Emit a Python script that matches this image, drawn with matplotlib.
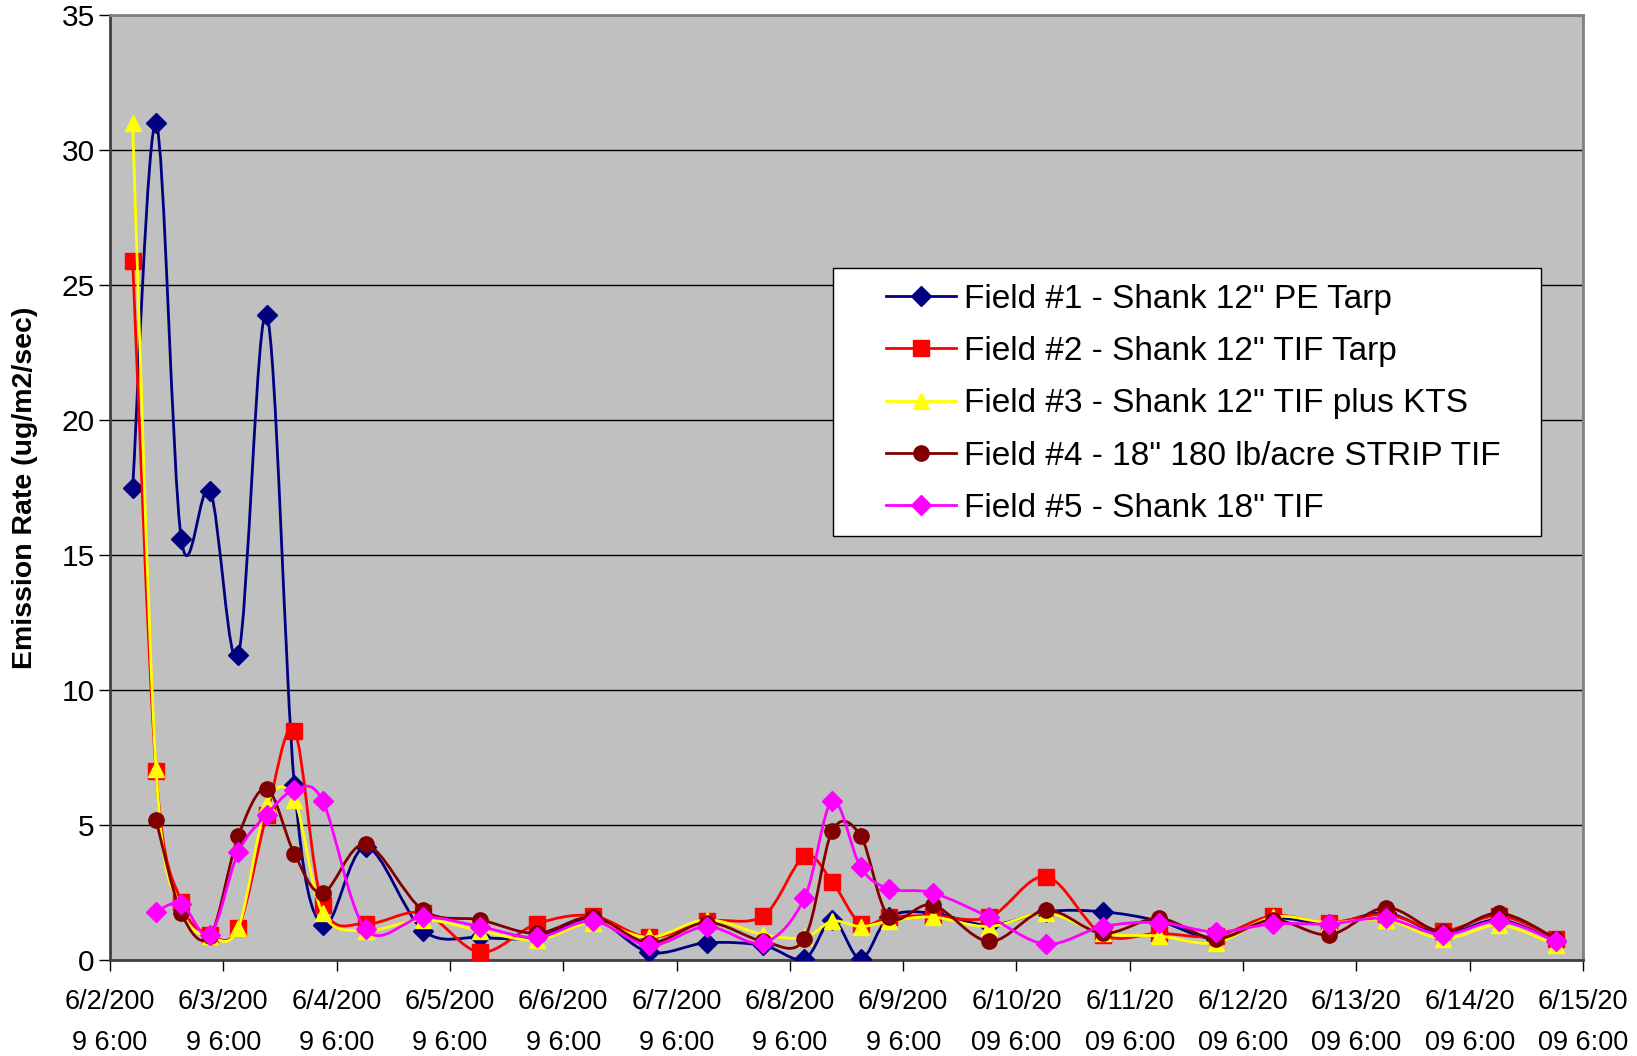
import numpy as np
import pandas as pd
import matplotlib
matplotlib.use("Agg")
import matplotlib.pyplot as plt
import matplotlib.dates as mdates
from matplotlib.path import Path
from matplotlib.patches import PathPatch, Rectangle
from matplotlib.lines import Line2D

plt.rcParams['font.family'] = ['Liberation Sans', 'DejaVu Sans']

# sampling times
times = pd.to_datetime([
    "2009-06-02 10:48", "2009-06-02 15:45", "2009-06-02 21:06", "2009-06-03 03:12",
    "2009-06-03 09:10", "2009-06-03 15:12", "2009-06-03 21:03", "2009-06-04 03:03",
    "2009-06-04 12:10", "2009-06-05 00:22", "2009-06-05 12:23", "2009-06-06 00:23",
    "2009-06-06 12:14", "2009-06-07 00:14", "2009-06-07 12:23", "2009-06-08 00:23",
    "2009-06-08 09:04", "2009-06-08 15:00", "2009-06-08 21:01", "2009-06-09 03:04",
    "2009-06-09 12:16", "2009-06-10 00:16", "2009-06-10 12:16", "2009-06-11 00:17",
    "2009-06-11 12:16", "2009-06-12 00:16", "2009-06-12 12:17", "2009-06-13 00:17",
    "2009-06-13 12:17", "2009-06-14 00:19", "2009-06-14 12:17", "2009-06-15 00:19",
])

nan = np.nan
field1 = [17.5, 31.0, 15.6, 17.4, 11.3, 23.9, 6.5, 1.3, 4.2, 1.1, 0.85, 0.85, 1.55, 0.3,
          0.65, 0.55, 0.05, 1.5, 0.05, 1.6, 1.75, 1.3, 1.8, 1.8, 1.45, 0.8, 1.55, 1.35,
          1.75, 1.0, 1.5, 0.7]
field2 = [25.9, 7.0, 2.15, 0.95, 1.2, 5.4, 8.5, 2.05, 1.35, 1.75, 0.3, 1.35, 1.65, 0.85,
          1.45, 1.65, 3.85, 2.9, 1.35, 1.6, 1.65, 1.6, 3.1, 0.95, 1.0, 0.9, 1.65, 1.4,
          1.7, 1.1, 1.65, 0.8]
field3 = [31.0, 7.1, 1.9, 0.9, 1.2, 5.8, 5.95, 1.75, 1.1, 1.5, 1.1, 0.75, 1.4, 0.85,
          1.5, 0.95, 0.85, 1.45, 1.25, 1.45, 1.6, 1.25, 1.75, 1.0, 0.9, 0.65, 1.6, 1.4,
          1.5, 0.8, 1.3, 0.55]
field4 = [nan, 5.2, 1.75, 0.9, 4.6, 6.35, 3.95, 2.5, 4.3, 1.85, 1.5, 1.0, 1.6, 0.65,
          1.4, 0.7, 0.8, 4.8, 4.6, 1.6, 2.05, 0.7, 1.85, 1.0, 1.55, 0.8, 1.5, 0.95,
          1.95, 1.05, 1.75, 0.8]
field5 = [nan, 1.8, 2.1, 0.95, 4.0, 5.4, 6.3, 5.9, 1.15, 1.6, 1.25, 0.85, 1.45, 0.55,
          1.25, 0.65, 2.3, 5.9, 3.45, 2.65, 2.5, 1.6, 0.6, 1.25, 1.4, 1.05, 1.35, 1.35,
          1.55, 0.95, 1.45, 0.7]

labels = ['Field #1 - Shank 12" PE Tarp',
          'Field #2 - Shank 12" TIF Tarp',
          'Field #3 - Shank 12" TIF plus KTS',
          'Field #4 - 18" 180 lb/acre STRIP TIF',
          'Field #5 - Shank 18" TIF']
colors = ['#000080', '#FF0000', '#FFFF00', '#800000', '#FF00FF']
markers = ['D', 's', '^', 'o', 'D']
msizes = [10, 11, 12, 11, 10]

day_ticks = pd.date_range("2009-06-02 06:00", "2009-06-15 06:00", freq="D")


def smooth_path(x, y):
    # Catmull-Rom style Bezier through every point (like spreadsheet "smoothed line")
    pts = np.column_stack([x, y])
    n = len(pts)
    verts = [pts[0]]
    codes = [Path.MOVETO]
    for i in range(n - 1):
        p0 = pts[max(i - 1, 0)]
        p1 = pts[i]
        p2 = pts[i + 1]
        p3 = pts[min(i + 2, n - 1)]
        verts += [p1 + (p2 - p0) / 6.0, p2 - (p3 - p1) / 6.0, p2]
        codes += [Path.CURVE4] * 3
    return Path(verts, codes)


fig = plt.figure(figsize=(16.37, 10.56), dpi=100)
ax = fig.add_axes([0.0672, 0.0906, 0.8998, 0.8949])
ax.set_facecolor('#C0C0C0')

xnum = mdates.date2num(times)
series = [field1, field2, field3, field4, field5]
for k, vals in enumerate(series):
    v = np.asarray(vals, dtype=float)
    ok = ~np.isnan(v)
    path = smooth_path(xnum[ok], v[ok])
    ax.add_patch(PathPatch(path, facecolor='none', edgecolor=colors[k],
                           lw=2.0, zorder=3 + k, capstyle='round', joinstyle='round'))
    ax.plot(xnum[ok], v[ok], linestyle='none', marker=markers[k], ms=msizes[k],
            color=colors[k], mec=colors[k], zorder=3 + k + 0.5)

ax.set_xlim(mdates.date2num(day_ticks[0]), mdates.date2num(day_ticks[-1]))
ax.set_ylim(0, 35)
ax.set_yticks(np.arange(0, 36, 5))
ax.set_xticks(mdates.date2num(day_ticks))

tick_labels = []
for d in day_ticks:
    s = f"{d.month}/{d.day}/{d.year} {d.hour}:{d:%M}"
    tick_labels.append(s[:7] + "\n" + s[7:])
ax.set_xticklabels(tick_labels, fontsize=19.5, linespacing=1.75)
ax.tick_params(axis='x', direction='out', length=8, width=1, pad=13, color='black')
ax.tick_params(axis='y', direction='out', length=8, width=1, pad=3, labelsize=21.5,
               color='black')

ax.yaxis.grid(True, color='black', lw=1)
ax.set_axisbelow(True)

for side in ['left', 'bottom']:
    ax.spines[side].set_color('#404040')
    ax.spines[side].set_linewidth(2)
for side in ['top', 'right']:
    ax.spines[side].set_color('#808080')
    ax.spines[side].set_linewidth(2)

ax.set_ylabel('Emission Rate (ug/m2/sec)', fontsize=20.5, fontweight='bold')
ax.yaxis.set_label_coords(-0.049, 0.5)

# legend box
ax.add_patch(Rectangle((0.491, 0.449), 0.4805, 0.2836, transform=ax.transAxes,
                       facecolor='white', edgecolor='black', lw=1, zorder=20))
handles = [Line2D([], [], color=c, marker=m, ms=s, lw=2, mec=c)
           for c, m, s in zip(colors, markers, msizes)]
leg = ax.legend(handles, labels, loc='upper left', bbox_to_anchor=(0.5268, 0.716),
                frameon=False, fontsize=24, borderpad=0, borderaxespad=0,
                labelspacing=0.64, handlelength=2.1, handletextpad=0.25)
leg.set_zorder(21)

fig.savefig('out.png', dpi=100, facecolor='white')
